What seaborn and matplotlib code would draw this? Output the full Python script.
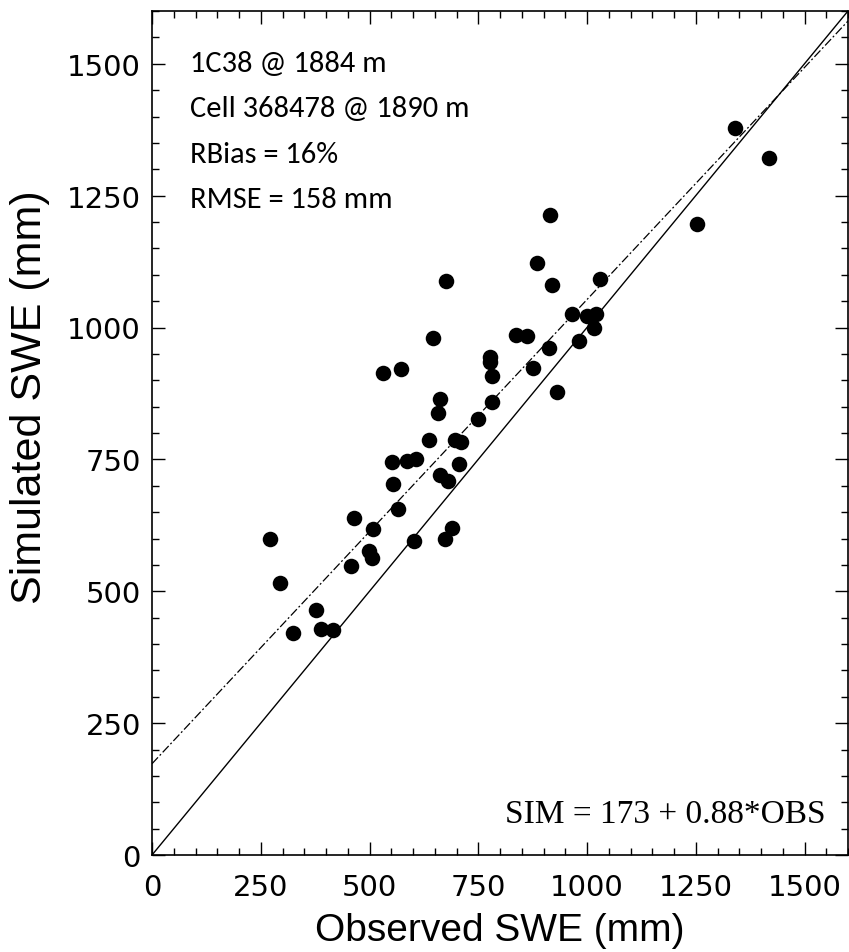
import matplotlib
matplotlib.use("Agg")
import matplotlib.pyplot as plt
import seaborn as sns
import numpy as np
import pandas as pd
from matplotlib.ticker import MultipleLocator

# Data
observed = [271, 294, 323, 377, 388, 417, 458, 465, 499, 505, 509, 530, 553, 552,
            566, 572, 587, 606, 602, 637, 647, 657, 662, 662, 675, 681, 674, 690,
            697, 710, 706, 750, 776, 777, 782, 781, 836, 861, 877, 886, 913, 915,
            920, 930, 965, 981, 1001, 1016, 1020, 1030, 1252, 1340, 1418]
simulated = [600, 516, 421, 465, 428, 426, 547, 638, 577, 563, 618, 914, 704, 745,
             656, 922, 747, 750, 595, 786, 981, 837, 865, 720, 1088, 709, 599, 620,
             787, 783, 742, 827, 934, 945, 909, 859, 985, 983, 924, 1122, 962, 1214,
             1081, 877, 1026, 975, 1022, 999, 1026, 1092, 1196, 1378, 1322]
fit_intercept = 173
fit_slope = 0.88
axis_max = 1600
tick_values = [0, 250, 500, 750, 1000, 1250, 1500]
info_lines = ["1C38 @ 1884 m", "Cell 368478 @ 1890 m", "RBias = 16%", "RMSE = 158 mm"]
eq_text = "SIM = 173 + 0.88*OBS"

df = pd.DataFrame({"obs": observed, "sim": simulated})

sns.set_style("ticks")
fig = plt.figure(figsize=(8.49, 9.53), dpi=100)
ax = fig.add_axes([152/849, 1 - 856/953, (848-152)/849, (856-12)/953])

line_x = np.array([0, axis_max])
ax.plot(line_x, line_x, color="black", lw=1.0, zorder=1)
ax.plot(line_x, fit_intercept + fit_slope * line_x, color="black", lw=0.9,
        dashes=(7, 2, 1.5, 2), zorder=1)

sns.scatterplot(data=df, x="obs", y="sim", ax=ax, color="black", s=125,
                edgecolor="black", linewidth=0, zorder=3)

ax.set_xlim(0, axis_max)
ax.set_ylim(0, axis_max)
ax.set_xticks(tick_values)
ax.set_yticks(tick_values)
ax.xaxis.set_minor_locator(MultipleLocator(50))
ax.yaxis.set_minor_locator(MultipleLocator(50))
ax.tick_params(which="both", direction="in", top=True, right=True, color="black")
ax.tick_params(which="major", length=9.5, width=1.0, labelsize=21, labelcolor="black")
ax.tick_params(axis="y", which="major", pad=8)
ax.tick_params(axis="x", which="major", pad=13)
ax.tick_params(which="minor", length=5, width=1.0)
for lab in ax.get_xticklabels() + ax.get_yticklabels():
    lab.set_fontfamily("DejaVu Sans")
for sp in ax.spines.values():
    sp.set_linewidth(1.2)
    sp.set_color("black")

ax.set_xlabel("Observed SWE (mm)", fontsize=28, family="Liberation Sans",
              color="black", labelpad=8)
ax.set_ylabel("Simulated SWE (mm)", fontsize=31, family="Liberation Sans",
              color="black")
ax.yaxis.set_label_coords((50 - 152) / 696, (856 - 397) / 844)

baselines = [72, 117, 163, 208]
for t, py in zip(info_lines, baselines):
    ax.text(190/849, 1 - py/953, t, transform=fig.transFigure, fontsize=22,
            family=["Carlito", "Lato"], va="baseline", ha="left", color="black")

ax.text(826/849, 1 - 815/953, eq_text, transform=fig.transFigure, fontsize=24,
        family=["Liberation Serif"], va="center", ha="right", color="black")

fig.savefig("out.png", dpi=100)
